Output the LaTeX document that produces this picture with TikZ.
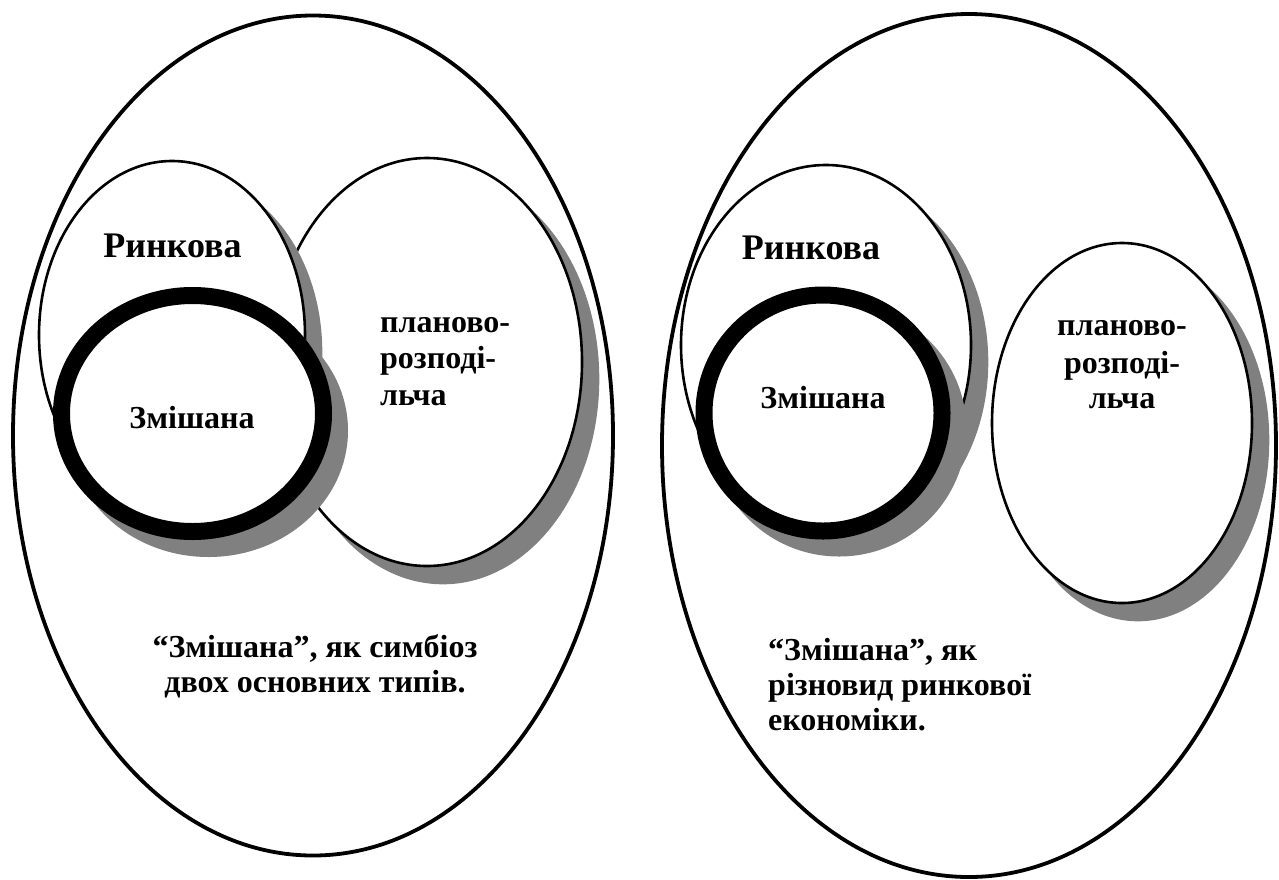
\documentclass[tikz,border=0pt]{standalone}
\usepackage{fontspec}
\setmainfont{Liberation Serif}
\definecolor{shade}{HTML}{808080}
\tikzset{
  outerell/.style={draw=black, fill=white, line width=3.8pt},
  thinell/.style={draw=black, fill=white, line width=2.6pt},
  thinshadow/.style={draw=shade, fill=shade, line width=2.6pt},
  thickell/.style={draw=black, fill=white, line width=17pt},
  thickshadow/.style={draw=shade, fill=shade, line width=17pt},
  lbl/.style={font=\fontsize{32}{35}\selectfont\bfseries, inner sep=0pt},
  biglbl/.style={font=\fontsize{36}{40}\selectfont\bfseries, inner sep=0pt},
}
\begin{document}
\begin{tikzpicture}[x=1pt,y=-1pt]
\useasboundingbox (0,0) rectangle (1279,879);
\fill[white] (0,0) rectangle (1279,879);

% ---------- left panel ----------
\draw[outerell] (313,435.5) ellipse [x radius=300pt, y radius=420pt];
\filldraw[thinshadow] (443,379) ellipse [x radius=155pt, y radius=204pt];
\draw[thinell] (427,362) ellipse [x radius=155pt, y radius=204pt];
\filldraw[thinshadow] (188,352) ellipse [x radius=133pt, y radius=174pt];
\draw[thinell] (172,335) ellipse [x radius=133pt, y radius=174pt];
\filldraw[thickshadow] (208.5,430.5) ellipse [x radius=131pt, y radius=118pt];
\draw[thickell] (192.5,413.5) ellipse [x radius=131pt, y radius=118pt];

\node[biglbl, anchor=base] (lR) at (172.5,257) {Ринкова};
\node[lbl, anchor=base] (lZ) at (192,428) {Змішана};
\node[lbl, anchor=base west] (lP1) at (380,332) {планово-};
\node[lbl, anchor=base west] (lP2) at (380,368) {розподі-};
\node[lbl, anchor=base west] (lP3) at (380,405) {льча};
\node[lbl, anchor=base] (lB1) at (315,657) {“Змішана”, як симбіоз};
\node[lbl, anchor=base] (lB2) at (315,692) {двох основних типів.};

% ---------- right panel ----------
\draw[outerell] (969,445.5) ellipse [x radius=307pt, y radius=431.5pt];
\filldraw[thinshadow] (842,362) ellipse [x radius=145pt, y radius=180pt];
\draw[thinell] (826,345) ellipse [x radius=145pt, y radius=180pt];
\filldraw[thickshadow] (839,430) ellipse [x radius=119pt, y radius=118pt];
\draw[thickell] (823,413) ellipse [x radius=119pt, y radius=118pt];
\filldraw[thinshadow] (1138,440) ellipse [x radius=130pt, y radius=180pt];
\draw[thinell] (1122,423) ellipse [x radius=130pt, y radius=180pt];

\node[biglbl, anchor=base] (rR) at (811,259) {Ринкова};
\node[lbl, anchor=base] (rZ) at (823,408) {Змішана};
\node[lbl, anchor=base] (rP1) at (1122,335) {планово-};
\node[lbl, anchor=base] (rP2) at (1122,373) {розподі-};
\node[lbl, anchor=base] (rP3) at (1122,408) {льча};
\node[lbl, anchor=base west] (rB1) at (768,660) {“Змішана”, як};
\node[lbl, anchor=base west] (rB2) at (768,695) {різновид ринкової};
\node[lbl, anchor=base west] (rB3) at (768,730) {економіки.};
\end{tikzpicture}
\end{document}
